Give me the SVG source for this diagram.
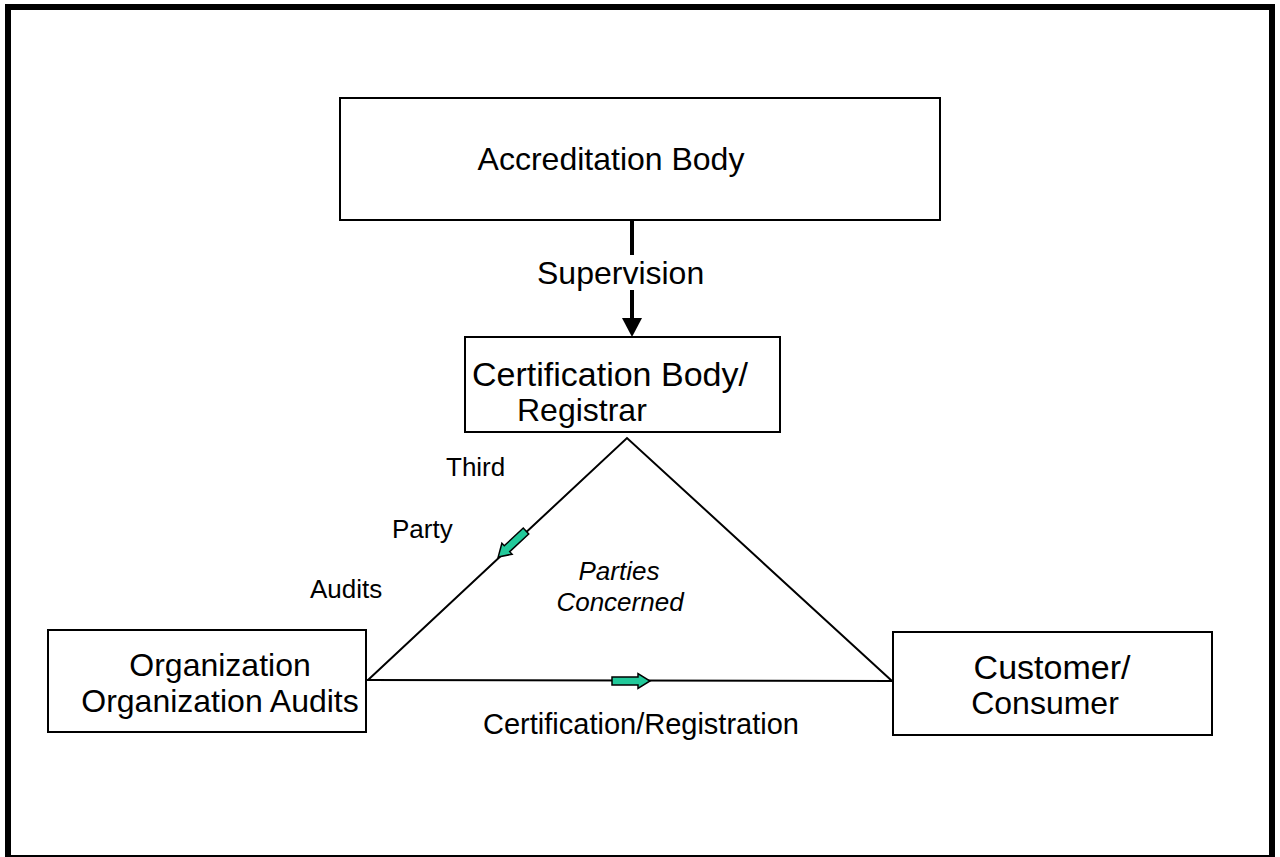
<svg xmlns="http://www.w3.org/2000/svg" width="1280" height="857" viewBox="0 0 1280 857">
<style>
.box{fill:#fff;stroke:#000;stroke-width:2}
.t{font-family:"Liberation Sans",Arial,sans-serif;fill:#000}
.big{font-size:32px}
.sm{font-size:26px}
.ln{stroke:#000;stroke-width:2;fill:none}
.thick{stroke:#000;stroke-width:4;fill:none}
.garrow{fill:#22c99a;stroke:#000;stroke-width:1.5;stroke-linejoin:miter}
</style>
<defs>
<path id="gar" d="M0,-4 L26,-4 L26,-7.5 L38,0 L26,7.5 L26,4 L0,4 Z"/>
</defs>
<rect x="0" y="0" width="1280" height="857" fill="#fff"/>
<rect id="frame" x="8" y="7" width="1264" height="851" fill="none" stroke="#000" stroke-width="6"/>
<g id="connectors">
<line class="thick" x1="632" y1="220" x2="632" y2="255"/>
<line class="thick" x1="632" y1="290" x2="632" y2="318"/>
<path d="M622,318 L642,318 L632,337 Z" fill="#000"/>
<polyline class="ln" points="368,680 627,438 892,681"/>
<line class="ln" x1="366" y1="680" x2="893" y2="681"/>
<use href="#gar" class="garrow" transform="translate(612,681)"/>
<use href="#gar" class="garrow" transform="translate(526,531) rotate(137)"/>
</g>
<text class="t big" x="537" y="284">Supervision</text>
<g id="accreditation">
<rect class="box" x="340" y="98" width="600" height="122"/>
<text class="t big" x="611" y="170" text-anchor="middle">Accreditation Body</text>
</g>
<g id="certification">
<rect class="box" x="465" y="337" width="315" height="95"/>
<text class="t" font-size="34" x="472" y="386">Certification Body/</text>
<text class="t big" x="517" y="421">Registrar</text>
</g>
<g id="organization">
<rect class="box" x="48" y="630" width="318" height="102"/>
<text class="t big" x="220" y="676" text-anchor="middle">Organization</text>
<text class="t big" x="220" y="712" text-anchor="middle">Organization Audits</text>
</g>
<g id="customer">
<rect class="box" x="893" y="632" width="319" height="103"/>
<text class="t" font-size="34" x="1052" y="679" text-anchor="middle">Customer/</text>
<text class="t big" x="1045" y="714" text-anchor="middle">Consumer</text>
</g>
<g id="labels">
<text class="t sm" x="446" y="476">Third</text>
<text class="t sm" x="392" y="538">Party</text>
<text class="t sm" x="310" y="598">Audits</text>
<text class="t sm" x="619" y="580" text-anchor="middle" font-style="italic">Parties</text>
<text class="t sm" x="620" y="611" text-anchor="middle" font-style="italic">Concerned</text>
<text class="t" font-size="29" x="641" y="734" text-anchor="middle">Certification/Registration</text>
</g>
</svg>
